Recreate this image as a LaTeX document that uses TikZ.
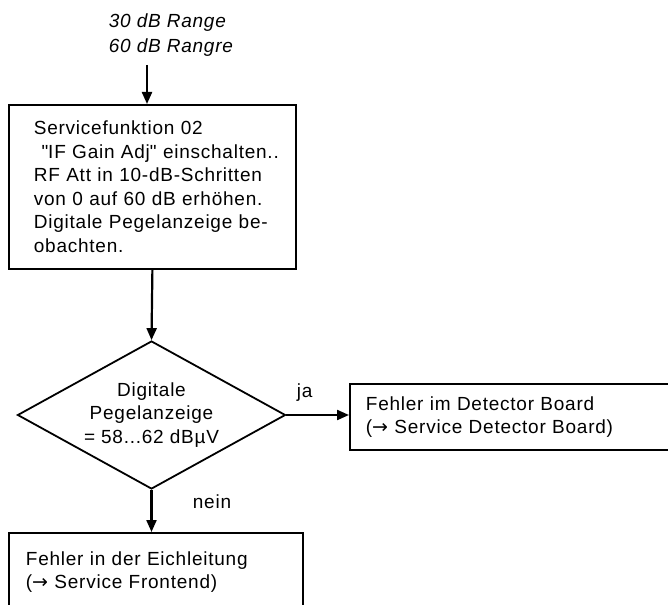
\documentclass[tikz,border=0pt]{standalone}
\usepackage{fontspec}
\setmainfont{Liberation Sans}[LetterSpace=4]
\newfontfamily\arrowfont{DejaVu Sans}
\usepackage{tikz}
\usetikzlibrary{shapes.geometric,arrows.meta}
\newcommand{\goto}{{\arrowfont →}}

\begin{document}
\begin{tikzpicture}[x=1pt, y=-1pt, line width=1.8pt,
	every node/.style={font=\fontsize{19}{23.5}\selectfont, inner sep=0pt},
	box/.style={draw, rectangle, align=left, anchor=north west},
	decision/.style={draw, diamond, aspect=1.81, minimum width=268pt, minimum height=148pt, align=center},
	flow/.style={-{Triangle[length=12pt,width=10pt]}, line width=2.2pt},]

    \useasboundingbox (0,0) rectangle (668,604);
    \clip (0,0) rectangle (668,604);

    \node[anchor=north west, align=left, font=\fontsize{19}{25}\selectfont\itshape] (range) at (108,13) {30 dB Range\\60 dB Rangre};
    \coordinate (in) at (147,65);

    \node[box, text width=237pt, inner xsep=25pt, minimum height=164pt] (svc) at (8,104)
	{Servicefunktion 02\\
	 \mbox{\hspace*{0.4em}\textquotedbl IF Gain Adj\textquotedbl\ einschalten..}\\
	 RF Att in 10-dB-Schritten\\
	 von 0 auf 60 dB erhöhen.\\
	 Digitale Pegelanzeige be-\\
	 obachten.};
    \node[decision] (dia) at (151.5,415) {Digitale\\Pegelanzeige\\= 58...62 dBµV};
    \node[box, text width=308pt, inner xsep=16pt, minimum height=66pt] (det) at (349,383)
	{Fehler im Detector Board\\(\goto\ Service Detector Board)};
    \node[box, text width=260pt, inner xsep=17pt, minimum height=78pt] (eich) at (8,532)
	{Fehler in der Eichleitung\\(\goto\ Service Frontend)};

    \node[anchor=base west] (ja) at (296,397) {ja};
    \node[anchor=base west] (nein) at (192,508) {nein};

    \draw[flow] (in) -- (in |- svc.north);
    \draw[flow] (svc.south) -- (dia.north);
    \draw[flow] (dia.east) -- (dia.east -| det.west);
    \draw[flow] (dia.south) -- (dia.south |- eich.north);
\end{tikzpicture}
\end{document}
